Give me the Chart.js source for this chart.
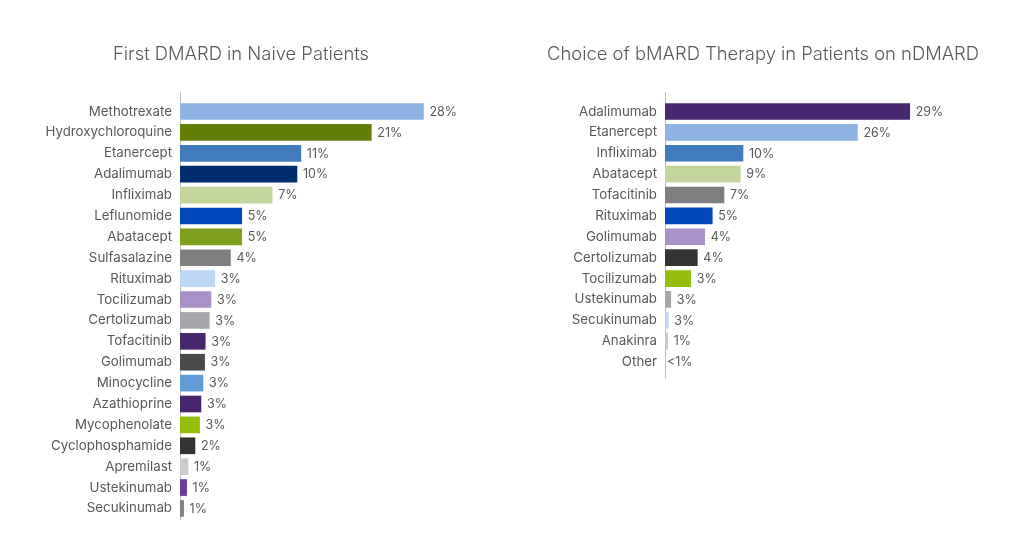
<!DOCTYPE html>
<html>
<head>
<meta charset="utf-8">
<script src="https://cdn.jsdelivr.net/npm/chart.js@4.4.1/dist/chart.umd.min.js"></script>
<style>
  html, body { margin: 0; padding: 0; background: #ffffff; }
  body { width: 1024px; height: 559px; position: relative; overflow: hidden; }
  .box { position: absolute; top: 0; width: 482px; height: 559px; }
  #leftBox { left: 0; }
  #rightBox { left: 522px; }
</style>
</head>
<body>
<div class="box" id="leftBox"><canvas id="leftChart" width="482" height="559"></canvas></div>
<div class="box" id="rightBox"><canvas id="rightChart" width="482" height="559"></canvas></div>
<script>
// ---- Left chart data: First DMARD in Naive Patients ----
const leftTitle = 'First DMARD in Naive Patients';
const leftCategories = ['Methotrexate', 'Hydroxychloroquine', 'Etanercept', 'Adalimumab', 'Infliximab',
  'Leflunomide', 'Abatacept', 'Sulfasalazine', 'Rituximab', 'Tocilizumab', 'Certolizumab', 'Tofacitinib',
  'Golimumab', 'Minocycline', 'Azathioprine', 'Mycophenolate', 'Cyclophosphamide', 'Apremilast',
  'Ustekinumab', 'Secukinumab'];
const leftValues = [28.0, 22.0, 13.9, 13.45, 10.6, 7.1, 7.1, 5.8, 4.0, 3.56, 3.37, 2.9, 2.83, 2.64,
  2.41, 2.25, 1.72, 0.92, 0.76, 0.41];
const leftLabels = ['28%', '21%', '11%', '10%', '7%', '5%', '5%', '4%', '3%', '3%', '3%', '3%', '3%',
  '3%', '3%', '3%', '2%', '1%', '1%', '1%'];
const leftColors = ['#8DB4E2', '#637F07', '#407CBD', '#012D6E', '#C3D59A', '#0047BA', '#7F9F1E',
  '#7F7F7F', '#BDD8F4', '#A991C8', '#A6A6AD', '#47266E', '#4A4A4A', '#619BD6', '#47266E', '#95BE0B',
  '#333333', '#CCCCCC', '#673D9E', '#808080'];

// ---- Right chart data: Choice of bMARD Therapy in Patients on nDMARD ----
const rightTitle = 'Choice of bMARD Therapy in Patients on nDMARD';
const rightCategories = ['Adalimumab', 'Etanercept', 'Infliximab', 'Abatacept', 'Tofacitinib',
  'Rituximab', 'Golimumab', 'Certolizumab', 'Tocilizumab', 'Ustekinumab', 'Secukinumab', 'Anakinra', 'Other'];
const rightValues = [29.0, 22.8, 9.24, 8.92, 6.99, 5.6, 4.7, 3.83, 3.05, 0.68, 0.39, 0.32, 0];
const rightLabels = ['29%', '26%', '10%', '9%', '7%', '5%', '4%', '4%', '3%', '3%', '3%', '1%', '<1%'];
const rightColors = ['#48286E', '#8DB4E2', '#407CBD', '#C3D59A', '#7F7F7F', '#0047BA', '#A991C8',
  '#333333', '#95BE0B', '#A6A6AD', '#BDD8F4', '#CCCCCC', '#CCCCCC'];

const TEXT_COLOR = '#595959';
const FONT = 'Inter, "Open Sans", sans-serif';

// draws value labels at the end of each bar
const valueLabelPlugin = {
  id: 'valueLabels',
  afterDatasetsDraw(chart, args, opts) {
    const ctx = chart.ctx;
    const meta = chart.getDatasetMeta(0);
    ctx.save();
    ctx.fillStyle = TEXT_COLOR;
    ctx.font = '12.5px ' + FONT;
    ctx.textAlign = 'left';
    ctx.textBaseline = 'middle';
    meta.data.forEach((bar, i) => {
      const txt = opts.labels[i];
      const off = chart.data.datasets[0].data[i] === 0 ? 2 : 6;
      ctx.fillText(txt, bar.x + off, bar.y + 0.5);
    });
    ctx.restore();
  }
};

// vertical axis line slightly longer than the category bands
const axisLinePlugin = {
  id: 'axisLine',
  beforeDatasetsDraw(chart, args, opts) {
    const ctx = chart.ctx;
    const a = chart.chartArea;
    ctx.save();
    ctx.strokeStyle = '#BFBFBF';
    ctx.lineWidth = 1;
    ctx.beginPath();
    ctx.moveTo(Math.round(a.left) + 0.5, a.top - opts.extTop);
    ctx.lineTo(Math.round(a.left) + 0.5, a.bottom + opts.extBottom);
    ctx.stroke();
    ctx.restore();
  }
};

function makeChart(canvasId, title, categories, values, labels, colors, cfg) {
  return new Chart(document.getElementById(canvasId), {
    type: 'bar',
    data: {
      labels: categories,
      datasets: [{
        data: values,
        backgroundColor: colors,
        borderWidth: 0,
        barThickness: 16
      }]
    },
    plugins: [valueLabelPlugin, axisLinePlugin],
    options: {
      indexAxis: 'y',
      responsive: false,
      animation: false,
      events: [],
      layout: { padding: { left: 0, right: 0, top: 0, bottom: cfg.padBottom } },
      plugins: {
        legend: { display: false },
        tooltip: { enabled: false },
        title: {
          display: true,
          text: title,
          color: TEXT_COLOR,
          font: { family: FONT, size: 18.4, weight: '300', lineHeight: 1.2 },
          padding: { top: 43.5, bottom: 35.5 }
        },
        valueLabels: { labels: labels },
        axisLine: { extTop: 9, extBottom: cfg.extBottom }
      },
      scales: {
        x: { display: false, min: 0, max: cfg.xMax },
        y: {
          afterFit: (scale) => { scale.width = cfg.axisWidth; },
          grid: { display: false, drawTicks: false },
          border: { display: false },
          ticks: {
            color: TEXT_COLOR,
            font: { family: FONT, size: 13.3 },
            padding: 8,
            autoSkip: false
          }
        }
      }
    }
  });
}

makeChart('leftChart', leftTitle, leftCategories, leftValues, leftLabels, leftColors,
  { axisWidth: 180, xMax: 34.73, padBottom: 40.1, extBottom: 1 });
makeChart('rightChart', rightTitle, rightCategories, rightValues, rightLabels, rightColors,
  { axisWidth: 143, xMax: 40.17, padBottom: 186.5, extBottom: 6 });
</script>
</body>
</html>
